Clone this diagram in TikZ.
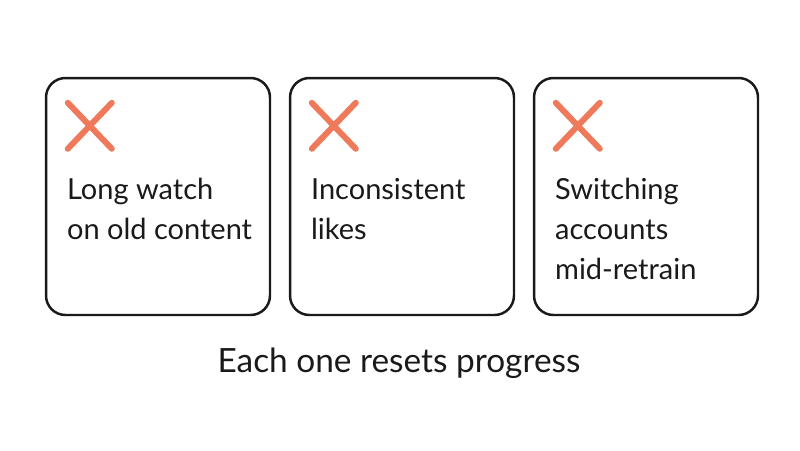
\documentclass[tikz,border=0pt]{standalone}
\usepackage{fontspec}
\setmainfont{Lato}
\usepackage{tikz}
\usetikzlibrary{positioning}

\definecolor{crosscol}{HTML}{EE7A5B}
\definecolor{inkcol}{HTML}{1A1A1A}

\begin{document}
\begin{tikzpicture}[x=0.02cm, y=-0.02cm, font=\fontsize{16.5}{22.5}\selectfont, text=inkcol,
  card/.style={draw=inkcol, line width=1.4pt, rounded corners=11pt, minimum width=4.48cm, minimum height=4.74cm},
  cross/.style={draw=crosscol, line width=3.4pt, line cap=round},
  label/.style={anchor=north west, align=left, inner sep=0pt}]
\useasboundingbox (0,0) rectangle (800,450);
\node[card] (c1) at (158,196.5) {};
\node[card] (c2) at (402,196.5) {};
\node[card] (c3) at (646,196.5) {};
% crosses and texts in each card
\foreach \c/\t in {c1/{Long watch\\on old content}, c2/{Inconsistent\\likes}, c3/{Switching\\accounts\\mid-retrain}} {
  \coordinate (\c-a) at ([xshift=0.46cm, yshift=-0.52cm]\c.north west);
  \coordinate (\c-b) at ([xshift=1.34cm, yshift=-1.44cm]\c.north west);
  \draw[cross] (\c-a) -- (\c-b);
  \draw[cross] (\c-a |- \c-b) -- (\c-b |- \c-a);
  \node[label] (\c-txt) at ([xshift=0.44cm, yshift=-2.03cm]\c.north west) {\t};
}
\node[anchor=base, font=\fontsize{19}{24}\selectfont] (note) at (399,372) {Each one resets progress};
\end{tikzpicture}
\end{document}
